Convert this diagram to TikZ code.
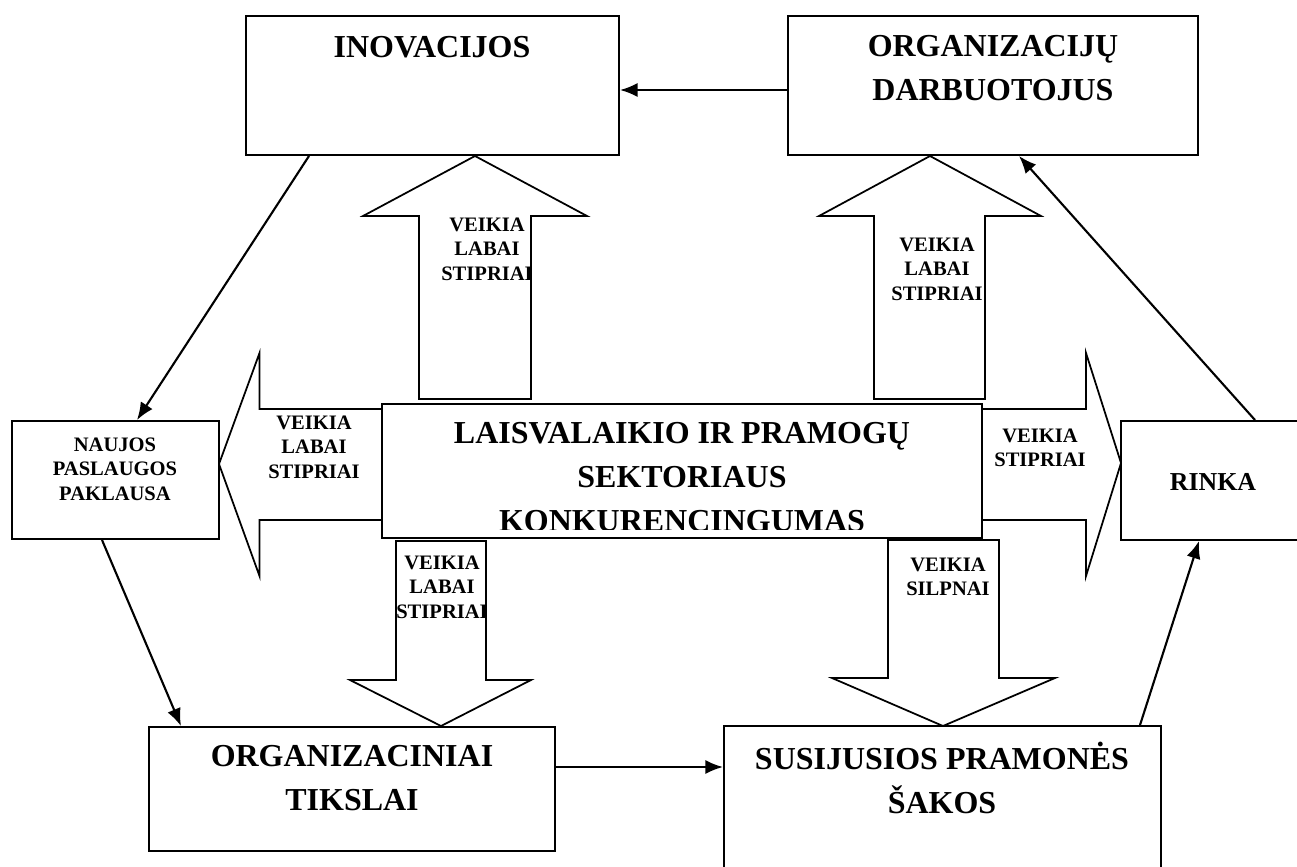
\documentclass[tikz,border=0pt]{standalone}
\usepackage{fontspec}
\setmainfont{Liberation Serif}
\usetikzlibrary{arrows.meta,fit}
\newcommand{\boxline}{1.1pt}
\newcommand{\arrline}{1pt}

\tikzset{
  box/.style={draw, line width=\boxline, inner sep=0pt},
  blockarr/.style={draw, line width=\arrline, line join=miter},
  conn/.style={line width=1.2pt, -{Latex[length=10pt,width=8pt]}},
  bigtxt/.style={font=\bfseries\fontsize{18.2}{24.8}\selectfont, align=center, inner sep=0pt},
  smalltxt/.style={font=\bfseries\fontsize{11.7}{13.9}\selectfont, align=center, inner sep=0pt},
  midtxt/.style={font=\bfseries\fontsize{14.7}{18}\selectfont, inner sep=0pt}
}

\begin{document}
\begin{tikzpicture}[x=0.02cm, y=-0.02cm]
\useasboundingbox (0,0) rectangle (1297,866);
\clip (0,0) rectangle (1297,866);
%boxes
\node[box, fit={(246,16) (619,155)}] (inov) {};
\node[box, fit={(788,16) (1198,155)}] (org) {};
\node[box, fit={(382,404) (982,538)}] (konk) {};
\node[box, fit={(12,421) (219,539)}] (naujos) {};
\node[box, fit={(1121,421) (1310,540)}] (rinka) {};
\node[box, fit={(149,727) (555,851)}] (tikslai) {};
\node[box, fit={(724,726) (1161,900)}] (sakos) {};
%box texts
\node[bigtxt] (inovtxt) at (432,47) {INOVACIJOS};
\node[bigtxt] (orgtxt) at (993,68) {ORGANIZACIJŲ\\DARBUOTOJUS};
\begin{scope}
\clip (konk.north west) rectangle (982,529);
\node[bigtxt] (konktxt) at (682,477) {LAISVALAIKIO IR PRAMOGŲ\\SEKTORIAUS\\KONKURENCINGUMAS};
\end{scope}
\node[smalltxt] (naujtxt) at (115,469) {NAUJOS\\PASLAUGOS\\PAKLAUSA};
\node[midtxt] (rinkatxt) at (1213,482) {RINKA};
\node[bigtxt] (tikstxt) at (352,778) {ORGANIZACINIAI\\TIKSLAI};
\node[bigtxt] (sakostxt) at (942,778) {SUSIJUSIOS PRAMONĖS\\ŠAKOS};
%block arrows
\draw[blockarr] (419,399) -- (419,216) -- (363,216) -- (475,156) -- (587,216) -- (531,216) -- (531,399) -- cycle;
\draw[blockarr] (874,399) -- (874,216) -- (819,216) -- (930,156) -- (1041,216) -- (985,216) -- (985,399) -- cycle;
\draw[blockarr] (382,409) -- (259.5,409) -- (259.5,353) -- (219,464) -- (259.5,576) -- (259.5,520) -- (382,520);
\draw[blockarr] (982,409) -- (1086,409) -- (1086,353) -- (1121,463) -- (1086,576) -- (1086,520) -- (982,520);
\draw[blockarr] (396,541) -- (486,541) -- (486,680) -- (531,680) -- (441,726) -- (350,680) -- (396,680) -- cycle;
\draw[blockarr] (888,540) -- (999,540) -- (999,678) -- (1055,678) -- (943,726) -- (832,678) -- (888,678) -- cycle;
%arrow texts
\node[smalltxt] (up1txt) at (487,249) {VEIKIA\\LABAI\\STIPRIAI};
\node[smalltxt] (up2txt) at (937,269) {VEIKIA\\LABAI\\STIPRIAI};
\node[smalltxt] (lefttxt) at (314,447) {VEIKIA\\LABAI\\STIPRIAI};
\node[smalltxt] (righttxt) at (1040,448) {VEIKIA\\STIPRIAI};
\node[smalltxt] (down1txt) at (442,587) {VEIKIA\\LABAI\\STIPRIAI};
\node[smalltxt] (down2txt) at (948,577) {VEIKIA\\SILPNAI};
%connectors
\draw[conn] (org.west |- 0,90) -- (inov.east |- 0,90);
\draw[conn] (inov.south -| 309,0) -- (naujos.north -| 137,0);
\draw[conn] (naujos.south -| 102,0) -- (tikslai.north -| 181,0);
\draw[conn] (tikslai.east |- 0,767) -- (sakos.west |- 0,767);
\draw[conn] (sakos.north -| 1140,0) -- (rinka.south -| 1199,0);
\draw[conn] (rinka.north -| 1255,0) -- (org.south -| 1019,0);
\end{tikzpicture}
\end{document}
